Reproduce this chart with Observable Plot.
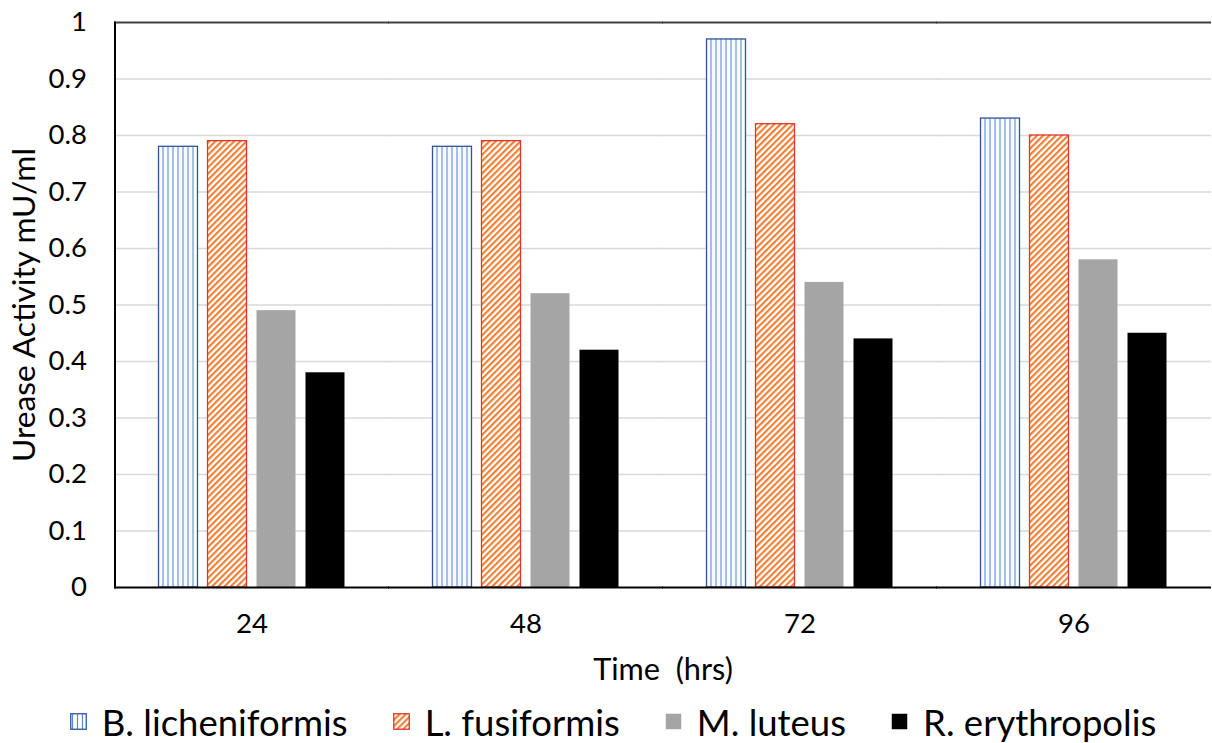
<!DOCTYPE html>
<html>
<head>
<meta charset="utf-8">
<script src="https://cdn.jsdelivr.net/npm/d3@7"></script>
<script src="https://cdn.jsdelivr.net/npm/@observablehq/plot@0.6"></script>
<style>
  html, body { margin: 0; padding: 0; background: #fff; }
  body { width: 1212px; height: 743px; overflow: hidden; font-family: Lato, "Liberation Sans", sans-serif; }
  svg text { white-space: pre; }
  #legend { display: flex; justify-content: center; align-items: center; height: 43px; gap: 45px; font-size: 36.5px; color: #000; padding-left: 14px; }
  .item { display: flex; align-items: center; gap: 15px; }
  .item svg { display: block; }
</style>
</head>
<body>
<div id="chart"></div>
<div id="legend"></div>
<script>
const times = ["24", "48", "72", "96"];
const series = ["B. licheniformis", "L. fusiformis", "M. luteus", "R. erythropolis"];
const bLicheniformis = [0.78, 0.78, 0.97, 0.83];
const lFusiformis = [0.79, 0.79, 0.82, 0.80];
const mLuteus = [0.49, 0.52, 0.54, 0.58];
const rErythropolis = [0.38, 0.42, 0.44, 0.45];
const yTicks = [0, 0.1, 0.2, 0.3, 0.4, 0.5, 0.6, 0.7, 0.8, 0.9, 1];

const seriesValues = [bLicheniformis, lFusiformis, mLuteus, rErythropolis];
const fills = ["url(#vstripes)", "url(#diag)", "#a5a5a5", "#000000"];
const strokes = ["#2f5597", "#e0362c", "none", "none"];

const rows = times.flatMap((t, i) => series.map((s, j) => ({time: t, series: s, value: seriesValues[j][i]})));

const defs = `
<pattern id="vstripes" patternUnits="userSpaceOnUse" width="5" height="10">
  <rect width="5" height="10" fill="#ffffff"/>
  <line x1="2.5" y1="0" x2="2.5" y2="10" stroke="#5b8ad8" stroke-width="1.2"/>
</pattern>
<pattern id="diag" patternUnits="userSpaceOnUse" width="4.4" height="10" patternTransform="rotate(45)">
  <rect width="4.4" height="10" fill="#ffffff"/>
  <line x1="1.1" y1="0" x2="1.1" y2="10" stroke="#ed7d31" stroke-width="2.1"/>
</pattern>`;

const half = 42.5; // half of the gap between groups (outer padding drawn by extension)

const chart = Plot.plot({
  width: 1212,
  height: 700,
  marginLeft: 114 + half,
  marginRight: half,
  marginTop: 22,
  marginBottom: 113,
  style: {fontFamily: "Lato, 'Liberation Sans', sans-serif", color: "#000", background: "#fff"},
  fx: {domain: times, paddingInner: 0.309, paddingOuter: 0},
  x: {domain: series, paddingInner: 0.2, paddingOuter: 0, axis: null},
  y: {domain: [0, 1]},
  marks: [
    Plot.ruleY(yTicks.filter(v => v > 0 && v < 1), {stroke: "#d9d9d9", strokeWidth: 1.3, insetLeft: -half - 0.5, insetRight: -half - 0.5}),
    ...series.map((s, j) => Plot.barY(rows.filter(r => r.series === s), {
      fx: "time", x: "series", y: "value",
      fill: fills[j], stroke: strokes[j], strokeWidth: 1.3
    })),
    Plot.ruleY([0], {stroke: "#000", strokeWidth: 2, insetLeft: -half - 0.5, insetRight: -half - 0.5}),
    Plot.ruleY([1], {stroke: "#404040", strokeWidth: 2, insetLeft: -half - 0.5, insetRight: -half - 0.5}),
    Plot.frame({anchor: "left", stroke: "#000", strokeWidth: 2, facet: "super", dx: -half}),
    Plot.axisY(yTicks, {tickSize: 0, tickPadding: 28 + half, fontSize: 27.5, tickFormat: d => String(d),
      label: "Urease Activity mU/ml", labelArrow: "none", labelAnchor: "center", labelOffset: 145.5}),
    Plot.axisFx({anchor: "bottom", tickSize: 0, tickPadding: 26, fontSize: 27.5, label: "Time  (hrs)", labelAnchor: "center", labelOffset: 92})
  ]
});

chart.insertAdjacentHTML("afterbegin", `<defs>${defs}</defs>`);
chart.querySelectorAll("g[aria-label='y-axis label'], g[aria-label='fx-axis label']").forEach(g => {
  g.setAttribute("font-size", g.getAttribute("aria-label").startsWith("y") ? 31.7 : 30.7);
  g.querySelectorAll("text").forEach(t => t.removeAttribute("font-size"));
});
document.getElementById("chart").appendChild(chart);

const legend = document.getElementById("legend");
series.forEach((s, j) => {
  const item = document.createElement("div");
  item.className = "item";
  item.innerHTML = `<svg width="17" height="17"><defs>${defs.replace(/id="vstripes"/, 'id="lg-v"').replace(/id="diag"/, 'id="lg-d"')}</defs>
    <rect x="0.75" y="0.75" width="15.5" height="15.5" fill="${fills[j].replace('#vstripes', '#lg-v').replace('#diag', '#lg-d')}" stroke="${strokes[j]}" stroke-width="1.3"/></svg><span>${s}</span>`;
  legend.appendChild(item);
});
</script>
</body>
</html>
